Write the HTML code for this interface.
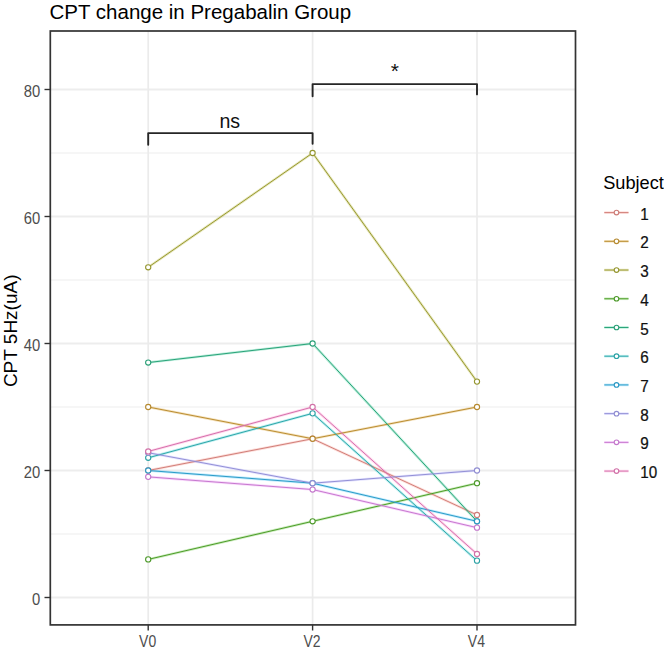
<!DOCTYPE html><html><head><meta charset="utf-8"><style>html,body{margin:0;padding:0;background:#fff;}svg{display:block;}text{font-family:"Liberation Sans",sans-serif;}</style></head><body>
<svg width="664" height="649" viewBox="0 0 664 649">
<rect x="0" y="0" width="664" height="649" fill="#fff"/>
<line x1="50.3" x2="575.5" y1="534.00" y2="534.00" stroke="#F3F3F3" stroke-width="1.4"/>
<line x1="50.3" x2="575.5" y1="407.00" y2="407.00" stroke="#F3F3F3" stroke-width="1.4"/>
<line x1="50.3" x2="575.5" y1="280.00" y2="280.00" stroke="#F3F3F3" stroke-width="1.4"/>
<line x1="50.3" x2="575.5" y1="153.00" y2="153.00" stroke="#F3F3F3" stroke-width="1.4"/>
<line x1="50.3" x2="575.5" y1="597.50" y2="597.50" stroke="#EDEDED" stroke-width="1.8"/>
<line x1="50.3" x2="575.5" y1="470.50" y2="470.50" stroke="#EDEDED" stroke-width="1.8"/>
<line x1="50.3" x2="575.5" y1="343.50" y2="343.50" stroke="#EDEDED" stroke-width="1.8"/>
<line x1="50.3" x2="575.5" y1="216.50" y2="216.50" stroke="#EDEDED" stroke-width="1.8"/>
<line x1="50.3" x2="575.5" y1="89.50" y2="89.50" stroke="#EDEDED" stroke-width="1.8"/>
<line x1="148.2" x2="148.2" y1="31.0" y2="624.9" stroke="#EBEBEB" stroke-width="1.7"/>
<line x1="312.6" x2="312.6" y1="31.0" y2="624.9" stroke="#EBEBEB" stroke-width="1.7"/>
<line x1="477.0" x2="477.0" y1="31.0" y2="624.9" stroke="#EBEBEB" stroke-width="1.7"/>
<path d="M148.2 144.8 L148.2 133.1 L312.6 133.1 L312.6 143.8" fill="none" stroke="#262626" stroke-width="1.9" stroke-linejoin="round" stroke-linecap="round"/>
<path d="M312.6 96.3 L312.6 84.1 L477.0 84.1 L477.0 94.4" fill="none" stroke="#262626" stroke-width="1.9" stroke-linejoin="round" stroke-linecap="round"/>
<text x="229.8" y="127.6" font-size="19.6" text-anchor="middle" fill="#111">ns</text>
<text x="394.8" y="78.3" font-size="21" text-anchor="middle" fill="#111">*</text>
<polyline points="148.2,470.50 312.6,438.75 477.0,514.95" fill="none" stroke="#F8766D" stroke-opacity="0.25" stroke-width="2.6"/>
<polyline points="148.2,407.00 312.6,438.75 477.0,407.00" fill="none" stroke="#D89000" stroke-opacity="0.25" stroke-width="2.6"/>
<polyline points="148.2,267.30 312.6,153.00 477.0,381.60" fill="none" stroke="#A3A500" stroke-opacity="0.25" stroke-width="2.6"/>
<polyline points="148.2,559.40 312.6,521.30 477.0,483.20" fill="none" stroke="#39B600" stroke-opacity="0.25" stroke-width="2.6"/>
<polyline points="148.2,362.55 312.6,343.50 477.0,521.30" fill="none" stroke="#00BF7D" stroke-opacity="0.25" stroke-width="2.6"/>
<polyline points="148.2,457.80 312.6,413.35 477.0,560.67" fill="none" stroke="#00BFC4" stroke-opacity="0.25" stroke-width="2.6"/>
<polyline points="148.2,470.50 312.6,483.20 477.0,521.30" fill="none" stroke="#00B0F6" stroke-opacity="0.25" stroke-width="2.6"/>
<polyline points="148.2,452.72 312.6,483.20 477.0,470.50" fill="none" stroke="#9590FF" stroke-opacity="0.25" stroke-width="2.6"/>
<polyline points="148.2,476.85 312.6,489.55 477.0,527.65" fill="none" stroke="#E76BF3" stroke-opacity="0.25" stroke-width="2.6"/>
<polyline points="148.2,451.45 312.6,407.00 477.0,554.00" fill="none" stroke="#FF62BC" stroke-opacity="0.25" stroke-width="2.6"/>
<polyline points="148.2,470.50 312.6,438.75 477.0,514.95" fill="none" stroke="#d17f79" stroke-width="1"/>
<polyline points="148.2,407.00 312.6,438.75 477.0,407.00" fill="none" stroke="#ba8d32" stroke-width="1"/>
<polyline points="148.2,267.30 312.6,153.00 477.0,381.60" fill="none" stroke="#989931" stroke-width="1"/>
<polyline points="148.2,559.40 312.6,521.30 477.0,483.20" fill="none" stroke="#4d9c2a" stroke-width="1"/>
<polyline points="148.2,362.55 312.6,343.50 477.0,521.30" fill="none" stroke="#2aa379" stroke-width="1"/>
<polyline points="148.2,457.80 312.6,413.35 477.0,560.67" fill="none" stroke="#2da6a9" stroke-width="1"/>
<polyline points="148.2,470.50 312.6,483.20 477.0,521.30" fill="none" stroke="#2c9bc7" stroke-width="1"/>
<polyline points="148.2,452.72 312.6,483.20 477.0,470.50" fill="none" stroke="#9390d6" stroke-width="1"/>
<polyline points="148.2,476.85 312.6,489.55 477.0,527.65" fill="none" stroke="#c779cf" stroke-width="1"/>
<polyline points="148.2,451.45 312.6,407.00 477.0,554.00" fill="none" stroke="#d572ab" stroke-width="1"/>
<circle cx="148.2" cy="470.50" r="2.6" fill="#fff" stroke="#cc7c77" stroke-width="1.1"/>
<circle cx="312.6" cy="438.75" r="2.6" fill="#fff" stroke="#cc7c77" stroke-width="1.1"/>
<circle cx="477.0" cy="514.95" r="2.6" fill="#fff" stroke="#cc7c77" stroke-width="1.1"/>
<circle cx="148.2" cy="407.00" r="2.6" fill="#fff" stroke="#b68a31" stroke-width="1.1"/>
<circle cx="312.6" cy="438.75" r="2.6" fill="#fff" stroke="#b68a31" stroke-width="1.1"/>
<circle cx="477.0" cy="407.00" r="2.6" fill="#fff" stroke="#b68a31" stroke-width="1.1"/>
<circle cx="148.2" cy="267.30" r="2.6" fill="#fff" stroke="#959630" stroke-width="1.1"/>
<circle cx="312.6" cy="153.00" r="2.6" fill="#fff" stroke="#959630" stroke-width="1.1"/>
<circle cx="477.0" cy="381.60" r="2.6" fill="#fff" stroke="#959630" stroke-width="1.1"/>
<circle cx="148.2" cy="559.40" r="2.6" fill="#fff" stroke="#4c9929" stroke-width="1.1"/>
<circle cx="312.6" cy="521.30" r="2.6" fill="#fff" stroke="#4c9929" stroke-width="1.1"/>
<circle cx="477.0" cy="483.20" r="2.6" fill="#fff" stroke="#4c9929" stroke-width="1.1"/>
<circle cx="148.2" cy="362.55" r="2.6" fill="#fff" stroke="#2a9f77" stroke-width="1.1"/>
<circle cx="312.6" cy="343.50" r="2.6" fill="#fff" stroke="#2a9f77" stroke-width="1.1"/>
<circle cx="477.0" cy="521.30" r="2.6" fill="#fff" stroke="#2a9f77" stroke-width="1.1"/>
<circle cx="148.2" cy="457.80" r="2.6" fill="#fff" stroke="#2ca2a5" stroke-width="1.1"/>
<circle cx="312.6" cy="413.35" r="2.6" fill="#fff" stroke="#2ca2a5" stroke-width="1.1"/>
<circle cx="477.0" cy="560.67" r="2.6" fill="#fff" stroke="#2ca2a5" stroke-width="1.1"/>
<circle cx="148.2" cy="470.50" r="2.6" fill="#fff" stroke="#2b98c3" stroke-width="1.1"/>
<circle cx="312.6" cy="483.20" r="2.6" fill="#fff" stroke="#2b98c3" stroke-width="1.1"/>
<circle cx="477.0" cy="521.30" r="2.6" fill="#fff" stroke="#2b98c3" stroke-width="1.1"/>
<circle cx="148.2" cy="452.72" r="2.6" fill="#fff" stroke="#908dd2" stroke-width="1.1"/>
<circle cx="312.6" cy="483.20" r="2.6" fill="#fff" stroke="#908dd2" stroke-width="1.1"/>
<circle cx="477.0" cy="470.50" r="2.6" fill="#fff" stroke="#908dd2" stroke-width="1.1"/>
<circle cx="148.2" cy="476.85" r="2.6" fill="#fff" stroke="#c377cb" stroke-width="1.1"/>
<circle cx="312.6" cy="489.55" r="2.6" fill="#fff" stroke="#c377cb" stroke-width="1.1"/>
<circle cx="477.0" cy="527.65" r="2.6" fill="#fff" stroke="#c377cb" stroke-width="1.1"/>
<circle cx="148.2" cy="451.45" r="2.6" fill="#fff" stroke="#d170a7" stroke-width="1.1"/>
<circle cx="312.6" cy="407.00" r="2.6" fill="#fff" stroke="#d170a7" stroke-width="1.1"/>
<circle cx="477.0" cy="554.00" r="2.6" fill="#fff" stroke="#d170a7" stroke-width="1.1"/>
<rect x="50.3" y="31.0" width="525.2" height="593.9" fill="none" stroke="#333" stroke-width="1.7"/>
<line x1="44.5" x2="50.3" y1="597.50" y2="597.50" stroke="#333" stroke-width="1.4"/>
<text transform="translate(40.3,604.90) scale(1.03,1.17)" font-size="14.4" text-anchor="end" fill="#4D4D4D">0</text>
<line x1="44.5" x2="50.3" y1="470.50" y2="470.50" stroke="#333" stroke-width="1.4"/>
<text transform="translate(40.3,477.90) scale(1.03,1.17)" font-size="14.4" text-anchor="end" fill="#4D4D4D">20</text>
<line x1="44.5" x2="50.3" y1="343.50" y2="343.50" stroke="#333" stroke-width="1.4"/>
<text transform="translate(40.3,350.90) scale(1.03,1.17)" font-size="14.4" text-anchor="end" fill="#4D4D4D">40</text>
<line x1="44.5" x2="50.3" y1="216.50" y2="216.50" stroke="#333" stroke-width="1.4"/>
<text transform="translate(40.3,223.90) scale(1.03,1.17)" font-size="14.4" text-anchor="end" fill="#4D4D4D">60</text>
<line x1="44.5" x2="50.3" y1="89.50" y2="89.50" stroke="#333" stroke-width="1.4"/>
<text transform="translate(40.3,96.90) scale(1.03,1.17)" font-size="14.4" text-anchor="end" fill="#4D4D4D">80</text>
<line x1="148.2" x2="148.2" y1="624.9" y2="630.5" stroke="#333" stroke-width="1.4"/>
<text transform="translate(147.6,647.2) scale(0.97,1.17)" font-size="14.4" text-anchor="middle" fill="#4D4D4D">V0</text>
<line x1="312.6" x2="312.6" y1="624.9" y2="630.5" stroke="#333" stroke-width="1.4"/>
<text transform="translate(312.0,647.2) scale(0.97,1.17)" font-size="14.4" text-anchor="middle" fill="#4D4D4D">V2</text>
<line x1="477.0" x2="477.0" y1="624.9" y2="630.5" stroke="#333" stroke-width="1.4"/>
<text transform="translate(476.4,647.2) scale(0.97,1.17)" font-size="14.4" text-anchor="middle" fill="#4D4D4D">V4</text>
<text x="49.5" y="19" font-size="20.5" fill="#000">CPT change in Pregabalin Group</text>
<text transform="translate(16.6,330.8) rotate(-90)" font-size="19" text-anchor="middle" fill="#000">CPT 5Hz(uA)</text>
<text x="603.2" y="188.6" font-size="18.2" fill="#000">Subject</text>
<line x1="604.3" x2="628.5" y1="212.60" y2="212.60" stroke="#F8766D" stroke-opacity="0.25" stroke-width="2.6"/>
<line x1="604.3" x2="628.5" y1="212.60" y2="212.60" stroke="#d17f79" stroke-width="1"/>
<circle cx="616.5" cy="212.60" r="2.3" fill="#fff" stroke="#cc7c77" stroke-width="1.1"/>
<text transform="translate(640.3,219.70) scale(1.06,1.14)" font-size="14.4" fill="#111" stroke="#111" stroke-width="0.2">1</text>
<line x1="604.3" x2="628.5" y1="241.32" y2="241.32" stroke="#D89000" stroke-opacity="0.25" stroke-width="2.6"/>
<line x1="604.3" x2="628.5" y1="241.32" y2="241.32" stroke="#ba8d32" stroke-width="1"/>
<circle cx="616.5" cy="241.32" r="2.3" fill="#fff" stroke="#b68a31" stroke-width="1.1"/>
<text transform="translate(640.3,248.42) scale(1.06,1.14)" font-size="14.4" fill="#111" stroke="#111" stroke-width="0.2">2</text>
<line x1="604.3" x2="628.5" y1="270.04" y2="270.04" stroke="#A3A500" stroke-opacity="0.25" stroke-width="2.6"/>
<line x1="604.3" x2="628.5" y1="270.04" y2="270.04" stroke="#989931" stroke-width="1"/>
<circle cx="616.5" cy="270.04" r="2.3" fill="#fff" stroke="#959630" stroke-width="1.1"/>
<text transform="translate(640.3,277.14) scale(1.06,1.14)" font-size="14.4" fill="#111" stroke="#111" stroke-width="0.2">3</text>
<line x1="604.3" x2="628.5" y1="298.76" y2="298.76" stroke="#39B600" stroke-opacity="0.25" stroke-width="2.6"/>
<line x1="604.3" x2="628.5" y1="298.76" y2="298.76" stroke="#4d9c2a" stroke-width="1"/>
<circle cx="616.5" cy="298.76" r="2.3" fill="#fff" stroke="#4c9929" stroke-width="1.1"/>
<text transform="translate(640.3,305.86) scale(1.06,1.14)" font-size="14.4" fill="#111" stroke="#111" stroke-width="0.2">4</text>
<line x1="604.3" x2="628.5" y1="327.48" y2="327.48" stroke="#00BF7D" stroke-opacity="0.25" stroke-width="2.6"/>
<line x1="604.3" x2="628.5" y1="327.48" y2="327.48" stroke="#2aa379" stroke-width="1"/>
<circle cx="616.5" cy="327.48" r="2.3" fill="#fff" stroke="#2a9f77" stroke-width="1.1"/>
<text transform="translate(640.3,334.58) scale(1.06,1.14)" font-size="14.4" fill="#111" stroke="#111" stroke-width="0.2">5</text>
<line x1="604.3" x2="628.5" y1="356.20" y2="356.20" stroke="#00BFC4" stroke-opacity="0.25" stroke-width="2.6"/>
<line x1="604.3" x2="628.5" y1="356.20" y2="356.20" stroke="#2da6a9" stroke-width="1"/>
<circle cx="616.5" cy="356.20" r="2.3" fill="#fff" stroke="#2ca2a5" stroke-width="1.1"/>
<text transform="translate(640.3,363.30) scale(1.06,1.14)" font-size="14.4" fill="#111" stroke="#111" stroke-width="0.2">6</text>
<line x1="604.3" x2="628.5" y1="384.92" y2="384.92" stroke="#00B0F6" stroke-opacity="0.25" stroke-width="2.6"/>
<line x1="604.3" x2="628.5" y1="384.92" y2="384.92" stroke="#2c9bc7" stroke-width="1"/>
<circle cx="616.5" cy="384.92" r="2.3" fill="#fff" stroke="#2b98c3" stroke-width="1.1"/>
<text transform="translate(640.3,392.02) scale(1.06,1.14)" font-size="14.4" fill="#111" stroke="#111" stroke-width="0.2">7</text>
<line x1="604.3" x2="628.5" y1="413.64" y2="413.64" stroke="#9590FF" stroke-opacity="0.25" stroke-width="2.6"/>
<line x1="604.3" x2="628.5" y1="413.64" y2="413.64" stroke="#9390d6" stroke-width="1"/>
<circle cx="616.5" cy="413.64" r="2.3" fill="#fff" stroke="#908dd2" stroke-width="1.1"/>
<text transform="translate(640.3,420.74) scale(1.06,1.14)" font-size="14.4" fill="#111" stroke="#111" stroke-width="0.2">8</text>
<line x1="604.3" x2="628.5" y1="442.36" y2="442.36" stroke="#E76BF3" stroke-opacity="0.25" stroke-width="2.6"/>
<line x1="604.3" x2="628.5" y1="442.36" y2="442.36" stroke="#c779cf" stroke-width="1"/>
<circle cx="616.5" cy="442.36" r="2.3" fill="#fff" stroke="#c377cb" stroke-width="1.1"/>
<text transform="translate(640.3,449.46) scale(1.06,1.14)" font-size="14.4" fill="#111" stroke="#111" stroke-width="0.2">9</text>
<line x1="604.3" x2="628.5" y1="471.08" y2="471.08" stroke="#FF62BC" stroke-opacity="0.25" stroke-width="2.6"/>
<line x1="604.3" x2="628.5" y1="471.08" y2="471.08" stroke="#d572ab" stroke-width="1"/>
<circle cx="616.5" cy="471.08" r="2.3" fill="#fff" stroke="#d170a7" stroke-width="1.1"/>
<text transform="translate(640.3,478.18) scale(1.06,1.14)" font-size="14.4" fill="#111" stroke="#111" stroke-width="0.2">10</text>
</svg></body></html>
